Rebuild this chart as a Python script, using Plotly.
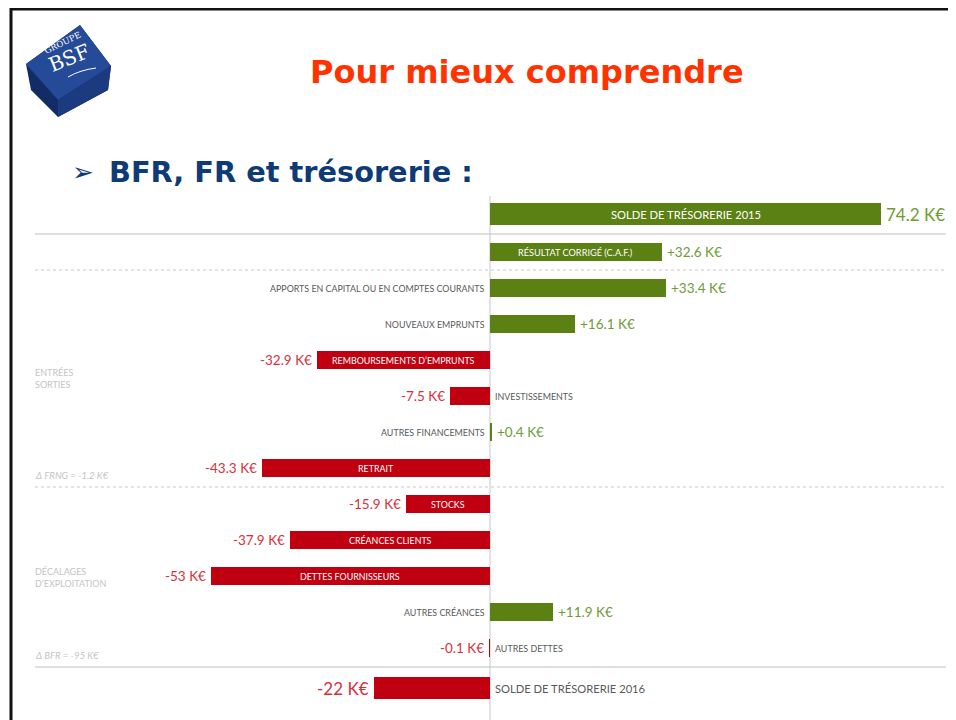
import plotly.graph_objects as go

# ---------------- data ----------------
categories = [
    "SOLDE DE TRÉSORERIE 2015",
    "RÉSULTAT CORRIGÉ (C.A.F.)",
    "APPORTS EN CAPITAL OU EN COMPTES COURANTS",
    "NOUVEAUX EMPRUNTS",
    "REMBOURSEMENTS D’EMPRUNTS",
    "INVESTISSEMENTS",
    "AUTRES FINANCEMENTS",
    "RETRAIT",
    "STOCKS",
    "CRÉANCES CLIENTS",
    "DETTES FOURNISSEURS",
    "AUTRES CRÉANCES",
    "AUTRES DETTES",
    "SOLDE DE TRÉSORERIE 2016",
]
values = [74.2, 32.6, 33.4, 16.1, -32.9, -7.5, 0.4, -43.3, -15.9, -37.9, -53, 11.9, -0.1, -22]
value_labels = ["74.2 K€", "+32.6 K€", "+33.4 K€", "+16.1 K€", "-32.9 K€", "-7.5 K€", "+0.4 K€",
                "-43.3 K€", "-15.9 K€", "-37.9 K€", "-53 K€", "+11.9 K€", "-0.1 K€", "-22 K€"]
label_inside = [True, True, False, False, True, False, False, True, True, True, True, False, False, False]
is_total = [True] + [False] * 12 + [True]

section_labels = ["ENTRÉES<br>SORTIES", "DÉCALAGES<br>D’EXPLOITATION"]
delta_notes = ["Δ FRNG = -1.2 K€", "Δ BFR = -95 K€"]

title_text = "Pour mieux comprendre"
subtitle_text = "BFR, FR et trésorerie :"

# ---------------- layout helpers ----------------
SW, SH = 956, 720          # screen size
OFF = 8                    # page body margin
W, H = SW - OFF, SH - OFF  # figure size
ZERO_PX = 490              # screen x of the zero line
SCALE = 391 / 74.2         # px per K€

def X(px):
    return (px - OFF) / W

def Y(py):
    return 1 - (py - OFF) / H

row_y = [214] + [252 + 36 * i for i in range(12)] + [688]
widths = [22 if t else 18 for t in is_total]

GREEN_BAR = "#5B8014"
RED_BAR = "#C00010"
GREEN_TXT = "#6F9B36"
RED_TXT = "#D6303C"
GRAY_TXT = "#595959"
LIGHT_TXT = "#C4C4C4"
FONT = "Lato"

colors = [GREEN_BAR if v >= 0 else RED_BAR for v in values]

fig = go.Figure()
fig.add_trace(go.Bar(
    x=values, y=row_y, orientation="h", width=widths,
    marker=dict(color=colors, line=dict(width=0)),
    hoverinfo="skip",
))

ann = []
for cat, v, lab, inside, tot, yy in zip(categories, values, value_labels, label_inside, is_total, row_y):
    pos = v >= 0
    ann.append(dict(
        x=v, y=yy, xref="x", yref="y", text=lab, showarrow=False,
        xanchor="left" if pos else "right", xshift=3 if pos else -3,
        font=dict(family=FONT, size=17 if tot else 13.5, color=GREEN_TXT if pos else RED_TXT),
    ))
    if inside:
        size = 11.2 if tot else (9.2 if cat.startswith("RÉSULTAT") else 8.9)
        ann.append(dict(
            x=v / 2, y=yy, xref="x", yref="y", text=cat, showarrow=False,
            xanchor="center", font=dict(family=FONT, size=size, color="white"),
        ))
    else:
        ann.append(dict(
            x=0, y=yy, xref="x", yref="y", text=cat, showarrow=False,
            xanchor="right" if pos else "left", xshift=-3 if pos else 3,
            font=dict(family=FONT, size=11.2 if tot else 8.9, color=GRAY_TXT),
        ))

# left-side section labels
for txt, py in zip(section_labels, [378, 577]):
    ann.append(dict(x=X(33), y=Y(py), xref="paper", yref="paper", text=txt, showarrow=False,
                    xanchor="left", yanchor="middle", align="left",
                    font=dict(family=FONT, size=9, color=LIGHT_TXT)))
for txt, py in zip(delta_notes, [475, 655]):
    ann.append(dict(x=X(33), y=Y(py), xref="paper", yref="paper", text="<i>" + txt + "</i>",
                    showarrow=False, xanchor="left", yanchor="middle",
                    font=dict(family=FONT, size=9.5, color=LIGHT_TXT)))

# title & subtitle
ann.append(dict(x=X(527), y=Y(72), xref="paper", yref="paper", text="<b>" + title_text + "</b>",
                showarrow=False, xanchor="center", yanchor="middle",
                font=dict(family="DejaVu Sans", size=32, color="#FF3300")))
ann.append(dict(x=X(70), y=Y(172), xref="paper", yref="paper", text="➢",
                showarrow=False, xanchor="left", yanchor="middle",
                font=dict(family="DejaVu Sans", size=26, color="#0E3A75")))
ann.append(dict(x=X(107), y=Y(172), xref="paper", yref="paper", text="<b>" + subtitle_text + "</b>",
                showarrow=False, xanchor="left", yanchor="middle",
                font=dict(family="DejaVu Sans", size=28.8, color="#0E3A75")))

# logo text
ann.append(dict(x=X(62), y=Y(43), xref="paper", yref="paper", text="GROUPE", showarrow=False,
                xanchor="center", yanchor="middle",
                textangle=-26, font=dict(family="DejaVu Serif", size=8.5, color="white")))
ann.append(dict(x=X(69), y=Y(58), xref="paper", yref="paper", text="BSF", showarrow=False,
                xanchor="center", yanchor="middle",
                textangle=-22, font=dict(family="DejaVu Serif", size=20, color="white")))

shapes = []
# border
shapes.append(dict(type="line", xref="paper", yref="paper", x0=X(11), x1=X(11), y0=Y(8), y1=Y(722),
                   line=dict(color="#111111", width=3)))
shapes.append(dict(type="line", xref="paper", yref="paper", x0=X(10), x1=X(958), y0=Y(9), y1=Y(9),
                   line=dict(color="#111111", width=3)))

# logo cube
def poly(pts):
    return "M " + " L ".join(f"{X(a)},{Y(b)}" for a, b in pts) + " Z"

shapes.append(dict(type="path", xref="paper", yref="paper",
                   path=poly([(26, 64), (80, 25), (111, 66), (108, 90), (58, 117), (31, 90)]),
                   fillcolor="#132C66", line=dict(width=0)))
shapes.append(dict(type="path", xref="paper", yref="paper",
                   path=poly([(26, 64), (80, 25), (111, 66), (58, 100)]),
                   fillcolor="#254A98", line=dict(width=0)))
shapes.append(dict(type="path", xref="paper", yref="paper",
                   path=poly([(58, 100), (111, 66), (108, 90), (58, 117)]),
                   fillcolor="#1B3A80", line=dict(width=0)))
shapes.append(dict(type="path", xref="paper", yref="paper",
                   path=f"M {X(68)},{Y(77)} Q {X(80)},{Y(70)} {X(96)},{Y(68)}",
                   line=dict(color="white", width=1)))

# separators
for py, dash, col in [(234, "solid", "#BFBFBF"), (270, "dot", "#C8C8C8"),
                      (487, "dot", "#C8C8C8"), (667, "solid", "#BFBFBF")]:
    shapes.append(dict(type="line", xref="paper", yref="paper", x0=X(35), x1=X(946), y0=Y(py), y1=Y(py),
                       line=dict(color=col, width=1, dash=dash)))
# vertical zero line
shapes.append(dict(type="line", xref="paper", yref="paper", x0=X(ZERO_PX), x1=X(ZERO_PX),
                   y0=Y(196), y1=Y(720), line=dict(color="#D9D9D9", width=1.5), layer="below"))

fig.update_layout(
    width=W, height=H, margin=dict(l=0, r=0, t=0, b=0),
    paper_bgcolor="white", plot_bgcolor="white",
    showlegend=False, bargap=0,
    xaxis=dict(range=[-(ZERO_PX - OFF) / SCALE, (SW - ZERO_PX) / SCALE], visible=False, fixedrange=True),
    yaxis=dict(range=[SH, OFF], visible=False, fixedrange=True),
    annotations=ann, shapes=shapes,
)

fig.write_html("out.html", config={"displayModeBar": False})
